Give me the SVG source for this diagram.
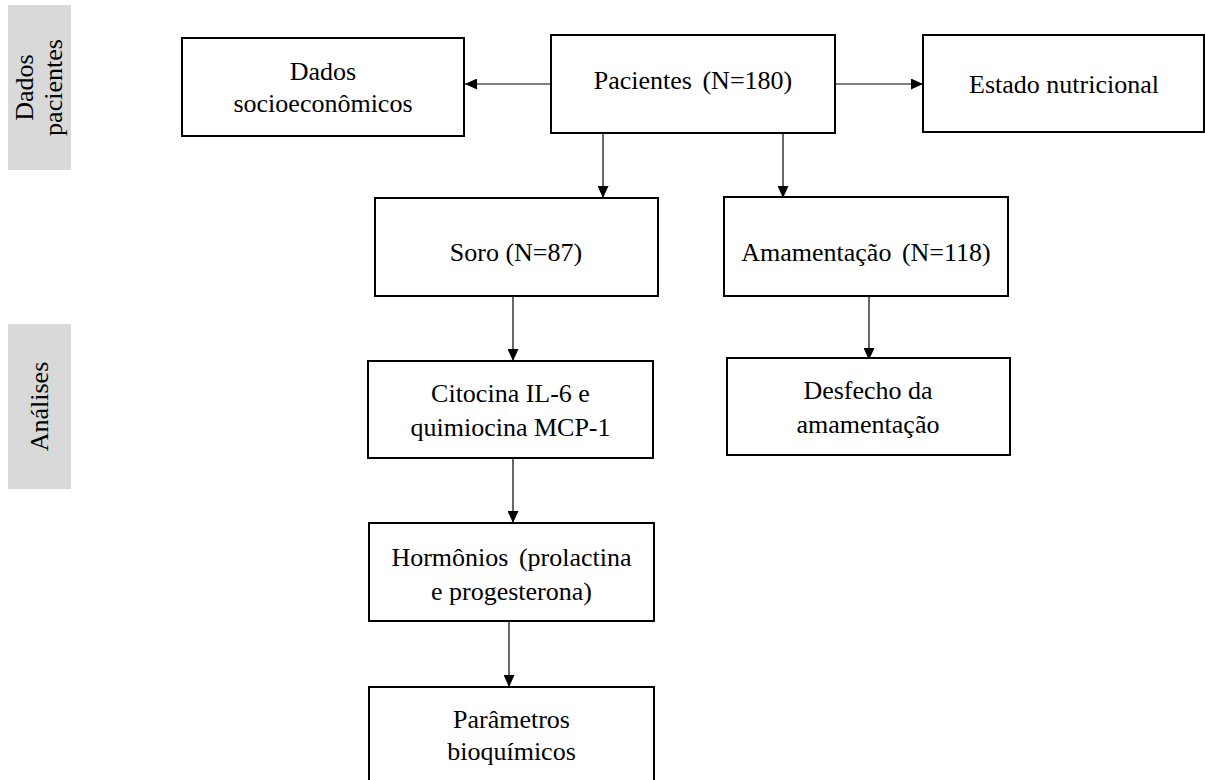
<svg xmlns="http://www.w3.org/2000/svg" width="1205" height="780" viewBox="0 0 1205 780">
  <style>
    .box { fill: #ffffff; stroke: #000000; stroke-width: 2; }
    .band { fill: #d9d9d9; }
    .lbl { font-family: "Liberation Serif", "Times New Roman", serif; font-size: 26px; fill: #000000; text-anchor: middle; }
    .wide { word-spacing: 4px; }
    .conn { stroke: #000000; stroke-width: 1.2; fill: none; marker-end: url(#arrow); }
  </style>
  <defs>
    <marker id="arrow" markerUnits="userSpaceOnUse" markerWidth="12" markerHeight="11" refX="12" refY="5.5" orient="auto">
      <path d="M0,0 L12,5.5 L0,11 Z" fill="#000000"/>
    </marker>
  </defs>

  <rect width="1205" height="780" fill="#ffffff"/>

  <!-- side bands -->
  <g id="band-dados">
    <rect class="band" x="8" y="5" width="63" height="165"/>
    <text class="lbl" x="33" y="87.5" transform="rotate(-90 33 87.5)">Dados</text>
    <text class="lbl" x="62" y="87.5" transform="rotate(-90 62 87.5)">pacientes</text>
  </g>
  <g id="band-analises">
    <rect class="band" x="8" y="324" width="63" height="165"/>
    <text class="lbl" x="48" y="406.5" transform="rotate(-90 48 406.5)">Análises</text>
  </g>

  <!-- connectors -->
  <g id="connectors">
    <line class="conn" x1="551" y1="84" x2="465" y2="84"/>
    <line class="conn" x1="835" y1="84" x2="923" y2="84"/>
    <line class="conn" x1="603" y1="133" x2="603" y2="198"/>
    <line class="conn" x1="783" y1="133" x2="783" y2="198"/>
    <line class="conn" x1="513" y1="296" x2="513" y2="361"/>
    <line class="conn" x1="869" y1="296" x2="869" y2="360"/>
    <line class="conn" x1="513" y1="458" x2="513" y2="523"/>
    <line class="conn" x1="509" y1="621" x2="509" y2="687"/>
  </g>

  <!-- nodes -->
  <g id="node-socio">
    <rect class="box" x="182" y="38" width="282" height="98"/>
    <text class="lbl" x="323" y="80">Dados</text>
    <text class="lbl" x="323" y="112">socioeconômicos</text>
  </g>
  <g id="node-pacientes">
    <rect class="box" x="551" y="35" width="284" height="98"/>
    <text class="lbl wide" x="693" y="89">Pacientes (N=180)</text>
  </g>
  <g id="node-estado">
    <rect class="box" x="923" y="35" width="281" height="97"/>
    <text class="lbl" x="1064" y="93">Estado nutricional</text>
  </g>
  <g id="node-soro">
    <rect class="box" x="375" y="198" width="283" height="98"/>
    <text class="lbl" x="516" y="261">Soro (N=87)</text>
  </g>
  <g id="node-amamentacao">
    <rect class="box" x="724" y="197" width="284" height="99"/>
    <text class="lbl wide" x="866" y="261">Amamentação (N=118)</text>
  </g>
  <g id="node-citocina">
    <rect class="box" x="368" y="361" width="285" height="97"/>
    <text class="lbl" x="510.5" y="402">Citocina IL-6 e</text>
    <text class="lbl" x="510.5" y="436">quimiocina MCP-1</text>
  </g>
  <g id="node-desfecho">
    <rect class="box" x="727" y="358" width="283" height="97"/>
    <text class="lbl" x="868" y="399">Desfecho da</text>
    <text class="lbl" x="868" y="433">amamentação</text>
  </g>
  <g id="node-hormonios">
    <rect class="box" x="369" y="523" width="285" height="98"/>
    <text class="lbl wide" x="511.5" y="566">Hormônios (prolactina</text>
    <text class="lbl" x="511.5" y="600">e progesterona)</text>
  </g>
  <g id="node-parametros">
    <rect class="box" x="369" y="687" width="285" height="105"/>
    <text class="lbl" x="511.5" y="728">Parâmetros</text>
    <text class="lbl" x="511.5" y="760">bioquímicos</text>
  </g>
</svg>
